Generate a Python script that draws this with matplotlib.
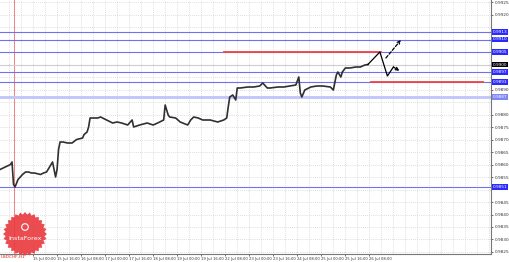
import numpy as np
import matplotlib
matplotlib.use('Agg')
import matplotlib.pyplot as plt
from matplotlib.patches import Polygon, Circle
from matplotlib.transforms import blended_transform_factory

# USDCHF H1 price path (bar index, close)
bars = [0, 7, 8, 9, 10, 12, 15, 17, 19, 21, 23, 27, 29, 31, 33, 35, 37, 38, 39, 40,
        42, 45, 48, 51, 55, 56, 58, 59, 60, 65, 67, 71, 75, 78, 81, 85, 88, 89, 93, 98,
        102, 105, 109, 110, 112, 113, 117, 120, 125, 127, 129, 132, 135, 140, 145, 149, 151, 152, 153, 155,
        157, 158, 160, 165, 169, 173, 175, 178, 180, 185, 189, 193, 197, 199, 200, 201, 203, 207, 211, 215,
        220, 222, 224, 225, 227, 228, 230, 233, 237, 240, 243, 245]
closes = [0.9858, 0.9860, 0.9861, 0.9852, 0.9851, 0.9854, 0.9856, 0.9857, 0.9857, 0.98566,
          0.98566, 0.9856, 0.98566, 0.9857, 0.9859, 0.9861, 0.9855, 0.9858, 0.9866, 0.9869,
          0.9869, 0.98686, 0.98686, 0.9870, 0.98706, 0.9872, 0.9873, 0.9875, 0.98786, 0.98786,
          0.9879, 0.98778, 0.98766, 0.9877, 0.98766, 0.98758, 0.98778, 0.9875, 0.98758, 0.98766,
          0.98758, 0.98766, 0.98778, 0.98838, 0.98798, 0.9879, 0.98786, 0.9877, 0.98758, 0.98778,
          0.9879, 0.98786, 0.98778, 0.98778, 0.9877, 0.98778, 0.98786, 0.9883, 0.9887, 0.98878,
          0.98858, 0.98906, 0.98906, 0.9891, 0.9891, 0.98914, 0.98926, 0.98906, 0.98906, 0.9891,
          0.9891, 0.98914, 0.98918, 0.9895, 0.98886, 0.9887, 0.98898, 0.9891, 0.98914, 0.98914,
          0.9891, 0.98898, 0.98958, 0.9897, 0.9895, 0.9897, 0.98986, 0.98986, 0.9899, 0.9899,
          0.98998, 0.9900]

# horizontal support / resistance levels
blue_levels = [0.9913, 0.9910, 0.9905, 0.9897, 0.9893, 0.9851]
pale_level = 0.9887
current_price = 0.9900
red_levels = [0.9905, 0.9893]
red_starts = [149, 247]
red_ends = [254, 322]
separator_bar = 9

# forecast paths
fc_bars = [245, 253, 258, 262]
fc_prices = [0.9900, 0.9905, 0.98954, 0.9899]
fc_arrow_end = (266, 0.98975)
dash_start = (257, 0.99026)
dash_end = (267, 0.99098)

time_labels = ['15 Jul 00:00', '15 Jul 16:00', '16 Jul 08:00', '17 Jul 00:00', '17 Jul 16:00',
               '18 Jul 08:00', '19 Jul 00:00', '19 Jul 16:00', '22 Jul 08:00', '23 Jul 00:00',
               '23 Jul 16:00', '24 Jul 08:00', '25 Jul 00:00', '25 Jul 16:00', '26 Jul 08:00']

W, H = 510, 262
fig = plt.figure(figsize=(W / 100, H / 100), dpi=100)
ax = fig.add_axes([0, 8 / H, 491 / W, 254 / H])

ax.set_xlim(0, 327)
ax.set_ylim(0.98242, 0.99258)

# grid
price_ticks = np.arange(0.9825, 0.99251, 0.0005)
for p in price_ticks:
    ax.axhline(p, color='#d4d4d4', lw=0.6, ls=(0, (1, 1.5)), zorder=0)
for b in range(6, 327, 8):
    ax.axvline(b, color='#d4d4d4', lw=0.6, ls=(0, (1, 1.5)), zorder=0)

ax.axvline(separator_bar, color='#f08080', lw=0.7, zorder=1)

for lv in blue_levels:
    ax.axhline(lv, color='#7070f0', lw=0.8, zorder=1)
ax.axhline(pale_level, color='#c0c4fa', lw=2.0, zorder=1)
ax.axhline(current_price, color='#cfcfcf', lw=0.8, zorder=1)

for lv, s, e in zip(red_levels, red_starts, red_ends):
    ax.plot([s, e], [lv, lv], color='#ee4444', lw=1.3, zorder=2)

ax.plot(bars, closes, color='#303030', lw=1.2, zorder=3)

ax.plot(fc_bars, fc_prices, color='black', lw=0.9, zorder=4)
ax.annotate('', xy=fc_arrow_end, xytext=(fc_bars[-1], fc_prices[-1]),
            arrowprops=dict(arrowstyle='->', lw=0.9, color='black', mutation_scale=5,
                            shrinkA=0, shrinkB=0), zorder=4)
ax.annotate('', xy=dash_end, xytext=dash_start,
            arrowprops=dict(arrowstyle='->', lw=0.9, color='black', mutation_scale=5,
                            linestyle=(0, (2.5, 1.5)), shrinkA=0, shrinkB=0), zorder=4)

# axes styling
for s in ['left', 'top']:
    ax.spines[s].set_visible(False)
for s in ['right', 'bottom']:
    ax.spines[s].set_color('#777777')
    ax.spines[s].set_linewidth(0.8)

# the terminal hides scale labels that sit under a level tag
tags = blue_levels + [pale_level, current_price]
shown = [p for p in price_ticks if min(abs(p - t) for t in tags) > 0.00022]
ax.yaxis.tick_right()
ax.set_yticks(shown)
ax.set_yticklabels(['%.4f' % p for p in shown])
ax.set_xticks([22 + 16 * i for i in range(len(time_labels))])
ax.set_xticklabels(time_labels, ha='left')
ax.tick_params(axis='y', labelsize=3.1, colors='#333333', length=1.5, width=0.5, pad=1)
ax.tick_params(axis='x', labelsize=2.7, colors='#333333', length=1.5, width=0.5, pad=1)

# level price tags on the right scale
tr = blended_transform_factory(ax.transAxes, ax.transData)
for lv in blue_levels:
    ax.text(1.003, lv, '%.4f' % lv, transform=tr, fontsize=3.1, color='white', va='center',
            ha='left', bbox=dict(boxstyle='square,pad=0.2', fc='#2a2aff', ec='none'), zorder=6)
ax.text(1.003, pale_level, '%.4f' % pale_level, transform=tr, fontsize=3.1, color='white', va='center',
        ha='left', bbox=dict(boxstyle='square,pad=0.2', fc='#7f86f5', ec='none'), zorder=6)
ax.text(1.003, current_price, '%.4f' % current_price, transform=tr, fontsize=3.1, color='white',
        va='center', ha='left', bbox=dict(boxstyle='square,pad=0.2', fc='black', ec='none'), zorder=6)

# overlay in pixel space for the badge
ov = fig.add_axes([0, 0, 1, 1], zorder=10)
ov.set_xlim(0, W)
ov.set_ylim(H, 0)
ov.axis('off')

cx, cy = 25, 234
ang = np.linspace(0, 2 * np.pi, 57)[:-1]
rad = np.where(np.arange(56) % 2 == 0, 22, 19.5)
star = Polygon(np.c_[cx + rad * np.cos(ang), cy + rad * np.sin(ang)], closed=True,
               fc='#e8383d', ec='none', alpha=0.9)
ov.add_patch(star)
ov.add_patch(Circle((cx, cy - 7), 3.3, fc='none', ec='white', lw=0.8))
ov.text(cx, cy + 4, 'InstaForex', color='white', fontsize=4.6, ha='center', va='center')
ov.text(1, 257, 'USDCHF,H1', color='#e02020', fontsize=3.1, ha='left', va='center')

fig.savefig('out.png', dpi=100, facecolor='white')
